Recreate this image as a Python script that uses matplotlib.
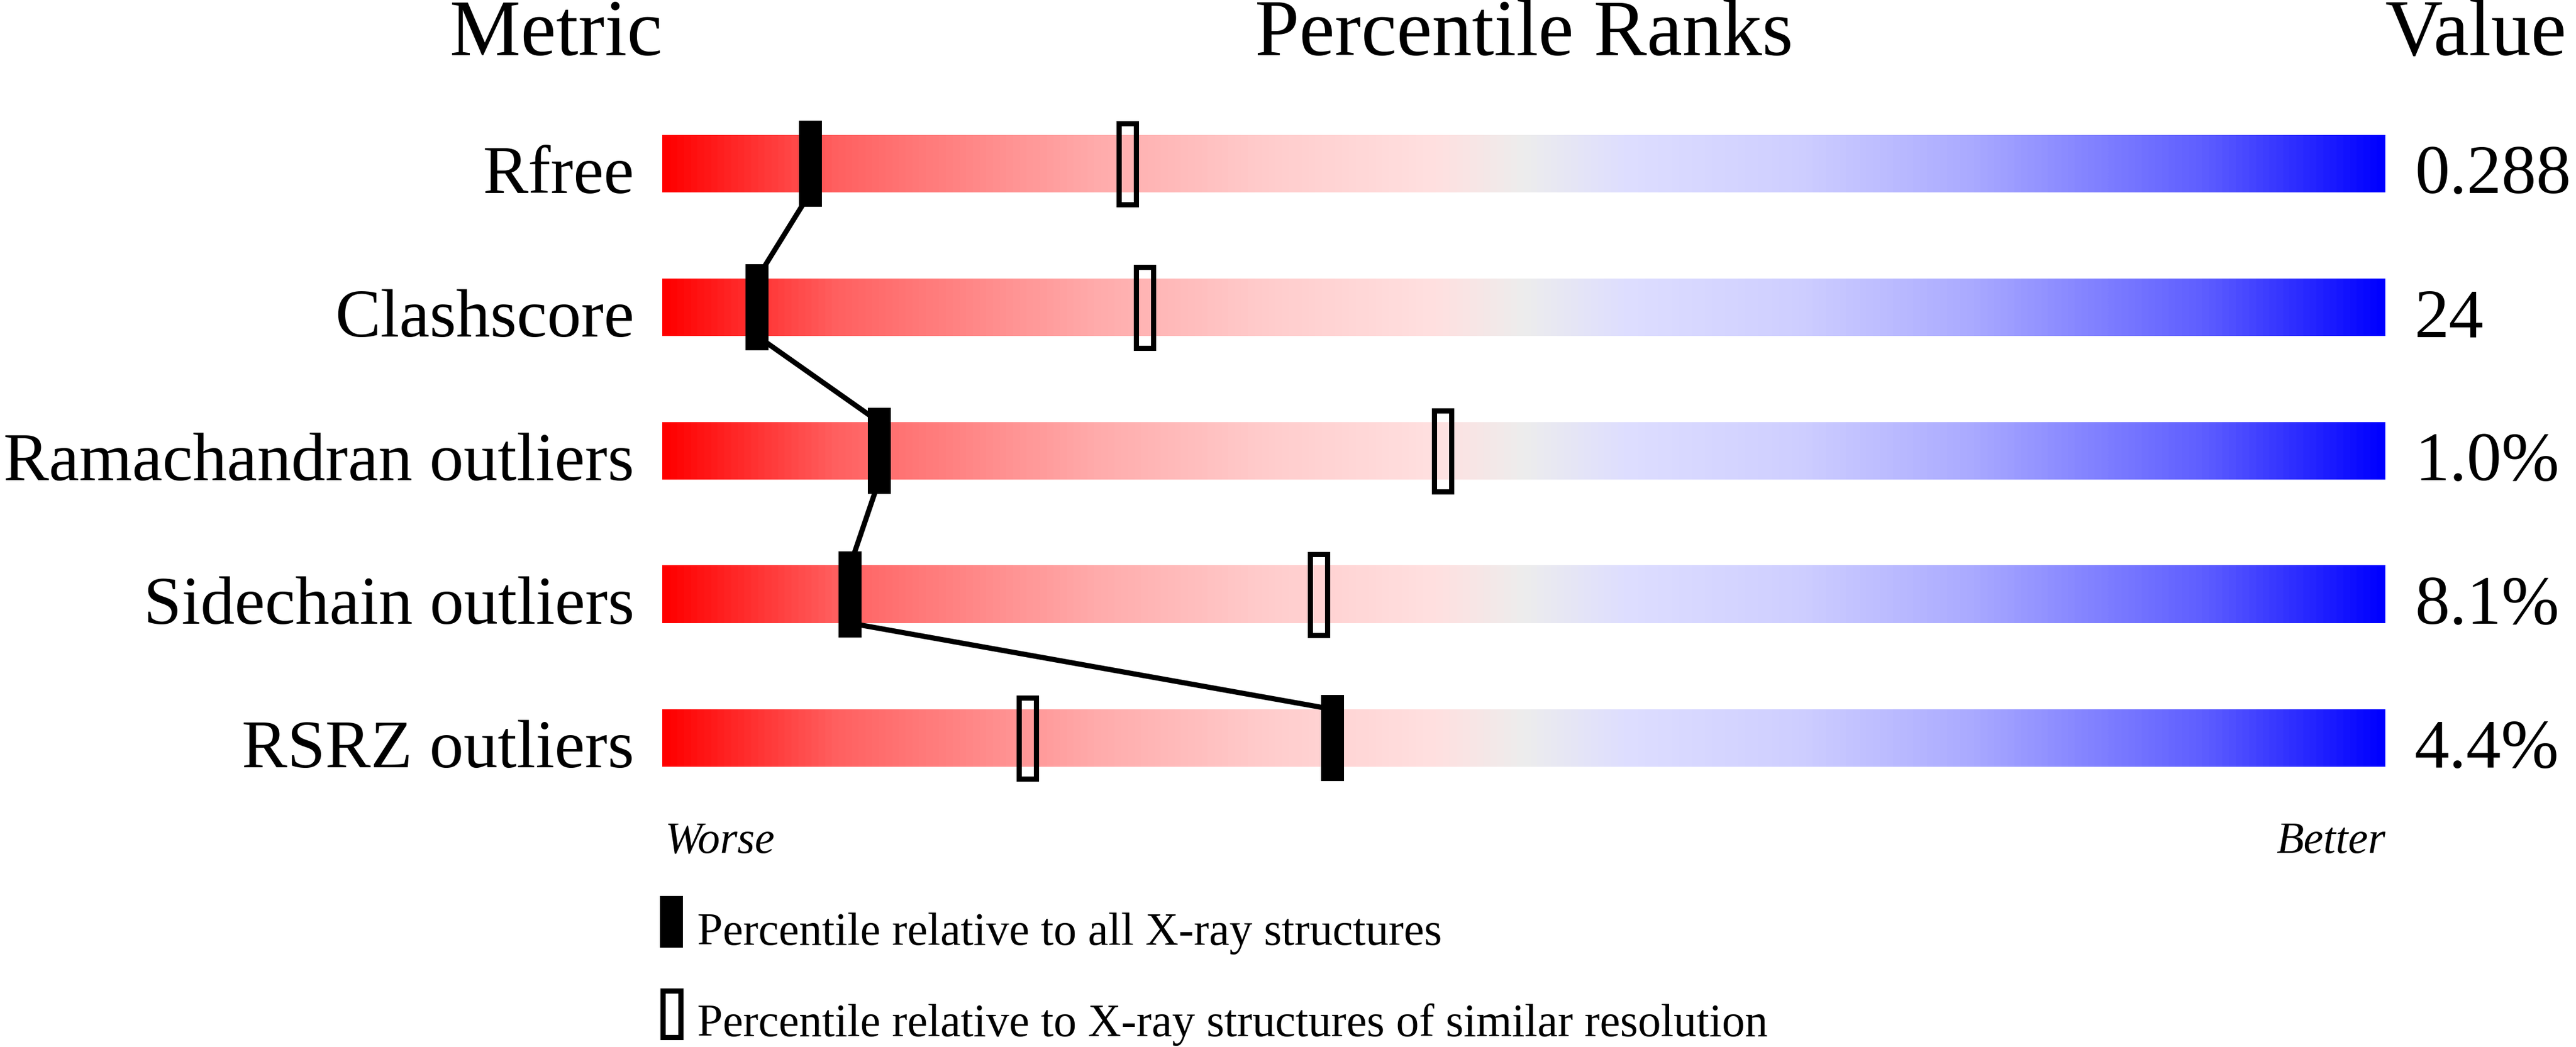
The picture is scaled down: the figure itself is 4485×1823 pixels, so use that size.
import numpy as np
import matplotlib
matplotlib.use("Agg")
from matplotlib import pyplot as plt
from matplotlib.patches import Rectangle
from matplotlib.colors import LinearSegmentedColormap

# Datos del grafico
metricas = ["Rfree", "Clashscore", "Ramachandran outliers",
            "Sidechain outliers", "RSRZ outliers"]
valores = ["0.288", "24", "1.0%", "8.1%", "4.4%"]
pct_todas = [8.6, 5.5, 12.6, 10.9, 38.9]        # percentil (todas las estructuras)
pct_similar = [27.0, 28.0, 45.3, 38.1, 21.2]    # percentil (resolucion similar)

plt.rcParams['font.family'] = ['Liberation Serif', 'DejaVu Serif']

# degradado rojo -> gris -> azul
paradas = [
    (0.00, (1.00, 0.00, 0.00)),
    (0.10, (1.00, 0.38, 0.38)),
    (0.25, (1.00, 0.67, 0.67)),
    (0.35, (1.00, 0.80, 0.80)),
    (0.45, (1.00, 0.88, 0.88)),
    (0.50, (0.93, 0.93, 0.93)),
    (0.56, (0.87, 0.87, 1.00)),
    (0.66, (0.81, 0.81, 1.00)),
    (0.76, (0.67, 0.67, 1.00)),
    (0.90, (0.36, 0.36, 1.00)),
    (1.00, (0.00, 0.00, 1.00)),
]
cmap = LinearSegmentedColormap.from_list("slider", paradas)

fig = plt.figure(figsize=(44.85, 18.24), dpi=100)
ax = fig.add_axes([1153 / 4485, 0, 3000 / 4485, 1])
ax.axis('off')

grad = np.linspace(0, 1, 512).reshape(1, -1)
alto_barra = 0.4
alto_marca = 0.6
ancho_marca = 1.333
lw = 6.5

for i in range(len(metricas)):
    ax.imshow(grad, extent=(0, 100, i + alto_barra / 2, i - alto_barra / 2),
              aspect='auto', cmap=cmap, interpolation='bilinear', zorder=1)
    # etiqueta y valor
    ax.text(-1.62, i + alto_barra / 2, metricas[i], fontsize=85.5,
            ha='right', va='baseline', clip_on=False)
    ax.text(101.7, i + alto_barra / 2, valores[i], fontsize=87,
            ha='left', va='baseline', clip_on=False)

    # marca hueca (resolucion similar)
    ax.add_patch(Rectangle((pct_similar[i] - ancho_marca / 2 + 0.15, i - alto_marca / 2 + 0.018),
                           ancho_marca - 0.3, alto_marca - 0.036,
                           fc='none', ec='black', lw=lw, zorder=4))
    # marca llena (todas)
    ax.add_patch(Rectangle((pct_todas[i] - ancho_marca / 2, i - alto_marca / 2),
                           ancho_marca, alto_marca,
                           fc='black', ec='none', zorder=5))

# lineas que unen las marcas llenas
for i in range(len(metricas) - 1):
    ax.plot([pct_todas[i], pct_todas[i + 1]],
            [i + alto_barra / 2, i + 1 - alto_barra / 2],
            color='black', lw=lw, solid_capstyle='butt', zorder=3)

# titulos
ax.text(0, -0.76, "Metric", fontsize=100, ha='right', va='baseline', clip_on=False)
ax.text(50, -0.76, "Percentile Ranks", fontsize=100, ha='center', va='baseline', clip_on=False)
ax.text(100, -0.76, "Value", fontsize=100, ha='left', va='baseline', clip_on=False)

# peor / mejor
ax.text(0.15, 4.796, "Worse", fontsize=56, style='italic', ha='left', va='baseline')
ax.text(100, 4.796, "Better", fontsize=56, style='italic', ha='right', va='baseline')

# leyenda
ax.add_patch(Rectangle((-0.13, 5.1), ancho_marca, 0.36, fc='black', ec='none', clip_on=False))
ax.add_patch(Rectangle((-0.13 + 0.15, 5.74 + 0.018), ancho_marca - 0.3, 0.36 - 0.036,
                       fc='none', ec='black', lw=lw, clip_on=False))
ax.text(2.03, 5.436, "Percentile relative to all X-ray structures", fontsize=57.5,
        ha='left', va='baseline')
ax.text(2.03, 6.072, "Percentile relative to X-ray structures of similar resolution",
        fontsize=57.5, ha='left', va='baseline')

ax.set_xlim(0, 100)
ax.set_ylim((1824 - 286) / 250, -286 / 250)

fig.savefig("out.png", dpi=100, facecolor='white')
